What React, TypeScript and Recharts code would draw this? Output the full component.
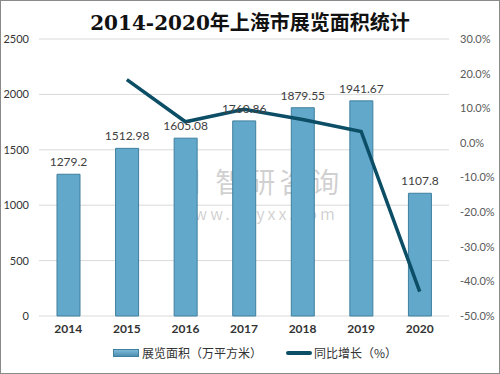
import React from 'react';
import {
  ComposedChart,
  Bar,
  Line,
  XAxis,
  YAxis,
  CartesianGrid,
  Legend,
  LabelList,
} from 'recharts';

const years = ['2014', '2015', '2016', '2017', '2018', '2019', '2020'];
const areaValues = [1279.2, 1512.98, 1605.08, 1760.86, 1879.55, 1941.67, 1107.8];
const growthValues: (number | null)[] = [null, 18.28, 6.09, 9.71, 6.74, 3.31, -42.95];
const leftTicks = [0, 500, 1000, 1500, 2000, 2500];
const rightTicks = [-50, -40, -30, -20, -10, 0, 10, 20, 30];

const data = years.map((year, i) => ({
  year,
  area: areaValues[i],
  growth: growthValues[i],
}));

const FONT = "Lato, 'Noto Sans CJK SC', sans-serif";
const BAR_COLOR = '#62a8cb';
const LINE_COLOR = '#0c4e66';

function ChartLegend() {
  return (
    <div
      style={{
        display: 'flex',
        justifyContent: 'center',
        alignItems: 'center',
        fontFamily: "'Noto Sans CJK SC', sans-serif",
        fontSize: 12,
        color: '#333',
        marginLeft: 10,
        marginTop: 2,
      }}
    >
      <span
        style={{
          display: 'inline-block',
          width: 24,
          height: 6,
          background: 'linear-gradient(#7dbad8, #4d8fb0)',
          border: '1px solid #3f7f9f',
          marginRight: 3,
        }}
      />
      <span style={{ marginRight: 24 }}>展览面积（万平方米）</span>
      <span
        style={{
          display: 'inline-block',
          width: 26,
          height: 4,
          borderRadius: 2,
          background: LINE_COLOR,
          marginRight: 2,
        }}
      />
      <span>同比增长（%）</span>
    </div>
  );
}

export default function App() {
  return (
    <div
      style={{
        position: 'fixed',
        left: 0,
        top: 0,
        width: 500,
        height: 374,
        background: '#fff',
        boxSizing: 'border-box',
        border: '1px solid #8a8a8a',
      }}
    >
      <div
        style={{
          position: 'absolute',
          top: 6,
          left: 0,
          width: '100%',
          textAlign: 'center',
          fontFamily: "'DejaVu Serif', 'Liberation Serif', 'Noto Sans CJK SC', serif",
          fontWeight: 'bold',
          fontSize: 20,
          color: '#111',
        }}
      >
        2014-2020年上海市展览面积统计
      </div>
      <div
        style={{
          position: 'absolute',
          left: 172,
          top: 160,
          fontFamily: "'Noto Sans CJK SC', sans-serif",
          color: 'rgba(120,120,120,0.35)',
          textAlign: 'center',
          pointerEvents: 'none',
        }}
      >
        <div style={{ fontSize: 28, letterSpacing: 4 }}>▣ 智研咨询</div>
        <div style={{ fontSize: 16, letterSpacing: 3 }}>www.chyxx.com</div>
      </div>
      <div style={{ position: 'absolute', left: -1, top: -1 }}>
        <ComposedChart
          width={500}
          height={374}
          data={data}
          margin={{ top: 39, right: 0, bottom: 8, left: 0 }}
        >
          <CartesianGrid yAxisId="left" vertical={false} stroke="#d9d9d9" />
          <XAxis
            dataKey="year"
            axisLine={false}
            tickLine={false}
            height={26}
            tick={{ fontFamily: FONT, fontSize: 12, fontWeight: 'bold', fill: '#333' }}
          />
          <YAxis
            yAxisId="left"
            domain={[0, 2500]}
            ticks={leftTicks}
            axisLine={false}
            tickLine={false}
            width={39}
            tick={{ fontFamily: FONT, fontSize: 11, fill: '#333' }}
            tickMargin={4}
          />
          <YAxis
            yAxisId="right"
            orientation="right"
            domain={[-50, 30]}
            ticks={rightTicks}
            axisLine={false}
            tickLine={false}
            width={51}
            tick={{ fontFamily: FONT, fontSize: 11, fill: '#595959', textAnchor: 'start' }}
            tickMargin={5}
            tickFormatter={(v: number) => `${v.toFixed(1)}%`}
          />
          <Legend verticalAlign="bottom" height={24} content={() => <ChartLegend />} />
          <Bar
            yAxisId="left"
            dataKey="area"
            fill={BAR_COLOR}
            stroke="#3f7f9f"
            strokeWidth={1}
            barSize={23}
            isAnimationActive={false}
          >
            <LabelList
              dataKey="area"
              position="top"
              offset={8}
              style={{ fontFamily: FONT, fontSize: 12, fill: '#404040' }}
            />
          </Bar>
          <Line
            yAxisId="right"
            dataKey="growth"
            stroke={LINE_COLOR}
            strokeWidth={3.5}
            dot={false}
            activeDot={false}
            connectNulls={false}
            isAnimationActive={false}
          />
        </ComposedChart>
      </div>
    </div>
  );
}
